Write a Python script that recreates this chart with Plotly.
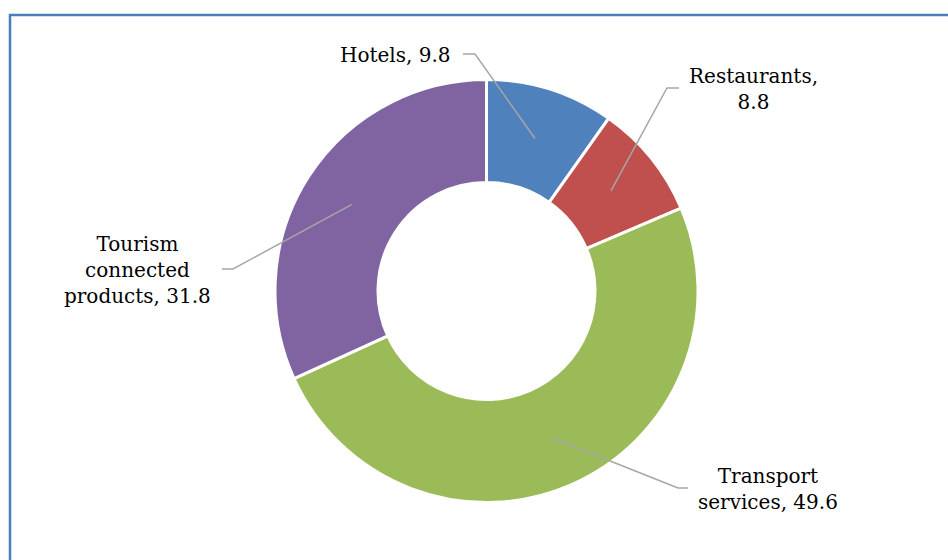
import numpy as np
import plotly.graph_objects as go

# Share of tourism-related spending by category
categories = ["Hotels", "Restaurants", "Transport services", "Tourism connected products"]
values = [9.8, 8.8, 49.6, 31.8]
colors = ["#4F81BD", "#C0504D", "#9BBB59", "#8064A2"]

# Label wording as printed next to each slice
label_names = ["Hotels", "Restaurants", "Transport<br>services", "Tourism<br>connected<br>products"]
label_seps = [", ", ",<br>", ", ", ", "]

# ---- geometry (pixels) ----
W, H = 948, 560
CX, CY = 486.5, 291.0
R_OUT, R_IN = 211.5, 108.5


def px(x):
    return x / W


def py(y):
    return 1 - y / H


# Callout placement: elbow point, end of leader, label anchor
callouts = [
    dict(elbow=(475, 54), end=(463, 54), text_at=(453, 55), xanchor="right"),
    dict(elbow=(667, 88), end=(679, 88), text_at=(753, 89), xanchor="center"),
    dict(elbow=(678, 488), end=(688, 488), text_at=(768, 489), xanchor="center"),
    dict(elbow=(233, 269), end=(222, 269), text_at=(137.5, 270), xanchor="center"),
]

fig = go.Figure(
    go.Pie(
        labels=categories,
        values=values,
        sort=False,
        direction="clockwise",
        rotation=0,
        hole=R_IN / R_OUT,
        marker=dict(colors=colors, line=dict(color="white", width=3)),
        textinfo="none",
        hoverinfo="label+value",
        showlegend=False,
        domain=dict(
            x=[px(CX - R_OUT), px(CX + R_OUT)],
            y=[py(CY + R_OUT), py(CY - R_OUT)],
        ),
    )
)

# Leader lines start in the middle of the ring at each slice's mid-angle
total = float(np.sum(values))
cum = np.cumsum(values) - np.array(values) / 2
r_mid = (R_OUT + R_IN) / 2
shapes = []
annotations = []
for i, (v, c) in enumerate(zip(values, callouts)):
    theta = np.deg2rad(cum[i] / total * 360.0)
    sx = CX + r_mid * np.sin(theta)
    sy = CY - r_mid * np.cos(theta)
    ex, ey = c["elbow"]
    fx, fy = c["end"]
    path = f"M {px(sx)} {py(sy)} L {px(ex)} {py(ey)} L {px(fx)} {py(fy)}"
    shapes.append(dict(type="path", xref="paper", yref="paper", path=path,
                       line=dict(color="#A6A6A6", width=1.5)))
    tx, ty = c["text_at"]
    annotations.append(dict(
        x=px(tx), y=py(ty), xref="paper", yref="paper",
        text=f"{label_names[i]}{label_seps[i]}{v}",
        showarrow=False, xanchor=c["xanchor"], yanchor="middle", align="center",
        font=dict(family="DejaVu Serif", size=20, color="#000000"),
    ))

# Chart border (top and left edges visible)
shapes.append(dict(type="rect", xref="paper", yref="paper",
                   x0=px(10), x1=1.05, y0=-0.05, y1=py(15),
                   line=dict(color="#4A7EBB", width=2.5), fillcolor="rgba(0,0,0,0)"))

fig.update_layout(
    width=W, height=H,
    margin=dict(l=0, r=0, t=0, b=0),
    paper_bgcolor="white",
    plot_bgcolor="white",
    shapes=shapes,
    annotations=annotations,
)

fig.write_html("out.html")
